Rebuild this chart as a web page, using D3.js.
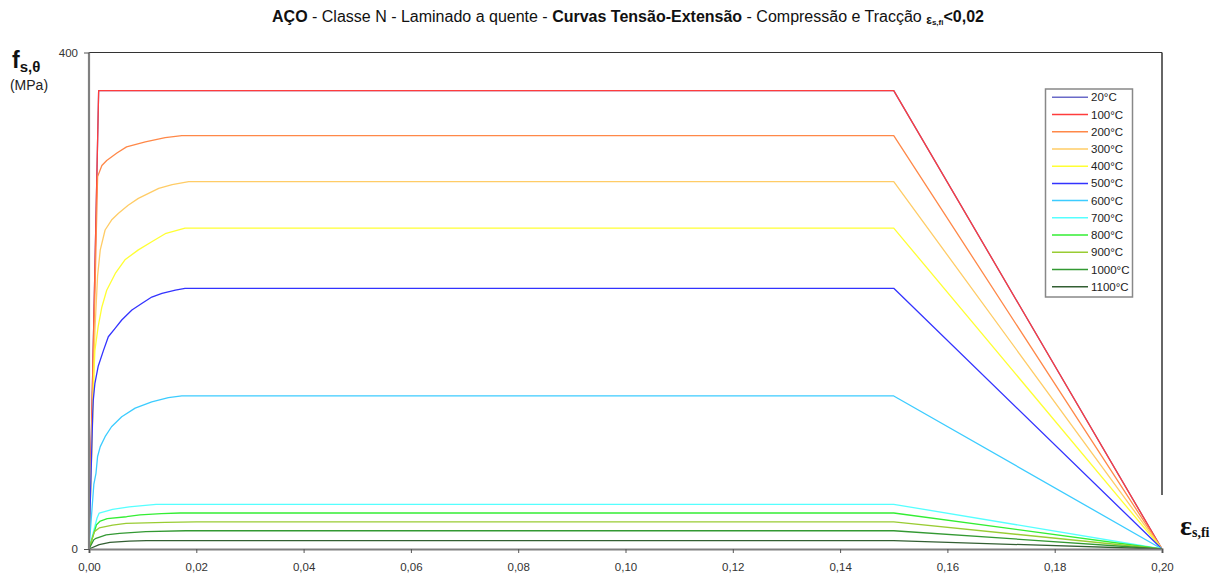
<html>
<head>
<meta charset="utf-8">
<script src="https://cdn.jsdelivr.net/npm/d3@7"></script>
<style>
  body { margin:0; background:#fff; }
  svg { font-family: "Liberation Sans", Arial, sans-serif; }
  .curve { fill:none; stroke-width:1.3; stroke-linejoin:round; }
</style>
</head>
<body>
<div id="container"></div>
<script>
// temperatures (legend) and [strain, stress MPa] points
var temps = ["20°C","100°C","200°C","300°C","400°C","500°C","600°C","700°C","800°C","900°C","1000°C","1100°C"];

var s20   = [[0,0],[0.0018,369.3],[0.15,369.3],[0.20,0]];
var s100  = [[0,0],[0.0018,369.3],[0.15,369.3],[0.20,0]];
var s200  = [[0,0],[0.0016,300],[0.0024,309],[0.0033,313],[0.0052,319],[0.0070,324],[0.0105,328],[0.0142,331.5],[0.0173,333],[0.02,333],[0.15,333],[0.20,0]];
var s300  = [[0,0],[0.0011,176],[0.0016,220],[0.0021,241],[0.0030,257],[0.0042,265],[0.0055,270.5],[0.0073,277],[0.0092,282.5],[0.0111,286.5],[0.0130,290.5],[0.0155,293.5],[0.0186,296],[0.02,296],[0.15,296],[0.20,0]];
var s400  = [[0,0],[0.0009,140],[0.0011,160],[0.0017,179],[0.0024,195],[0.0033,208.5],[0.0049,222],[0.0067,233],[0.0092,241],[0.0117,247.5],[0.0142,254],[0.0179,258.5],[0.02,258.5],[0.15,258.5],[0.20,0]];
var s500  = [[0,0],[0.0007,110],[0.0008,120],[0.0011,133.5],[0.0017,147],[0.0027,160],[0.0036,171],[0.0049,178],[0.0061,184.5],[0.0080,192.5],[0.0099,198],[0.0117,203],[0.0136,206],[0.0161,208.5],[0.0179,210],[0.02,210],[0.15,210],[0.20,0]];
var s600  = [[0,0],[0.0009,52],[0.0013,61],[0.0016,74.5],[0.0021,82.5],[0.0030,90.5],[0.0042,98.5],[0.0061,106.5],[0.0086,113.5],[0.0117,118.5],[0.0148,122],[0.0173,123.3],[0.02,123.3],[0.15,123.3],[0.20,0]];
var s700  = [[0,0],[0.0015,25],[0.0019,29],[0.0044,32],[0.0075,34],[0.0125,36],[0.02,36],[0.15,36],[0.20,0]];
var s800  = [[0,0],[0.0014,19.5],[0.0021,22.5],[0.0034,24.5],[0.0070,26],[0.0095,27.5],[0.0135,28.5],[0.017,29],[0.02,29],[0.15,29],[0.20,0]];
var s900  = [[0,0],[0.0010,14],[0.0019,17],[0.0044,19.3],[0.0069,20.7],[0.0142,21.5],[0.02,21.8],[0.15,21.8],[0.20,0]];
var s1000 = [[0,0],[0.0009,7.5],[0.0013,8.6],[0.0032,11.3],[0.0057,12.6],[0.0106,14],[0.0180,14.7],[0.02,14.7],[0.15,14.7],[0.20,0]];
var s1100 = [[0,0],[0.0019,3.5],[0.0039,5.4],[0.0075,6.4],[0.0107,6.7],[0.02,6.7],[0.15,6.7],[0.20,0]];

var xTicks = [0,0.02,0.04,0.06,0.08,0.10,0.12,0.14,0.16,0.18,0.20];
var yTicks = [0,400];

var series = [s20,s100,s200,s300,s400,s500,s600,s700,s800,s900,s1000,s1100];
var colors = ["#6a6ac8","#ff3c3c","#ff8848","#ffcc66","#ffff33","#3333ff","#3cccff","#55ffff","#33ee33","#99cc33","#339933","#335f33"];

var svg = d3.select("#container").append("svg")
	.attr("width", 1216).attr("height", 576);

var x = d3.scaleLinear().domain([0, 0.2]).range([89, 1162]);
var y = d3.scaleLinear().domain([0, 400]).range([549, 52.5]);

// title
var title = svg.append("text").attr("x", 628).attr("y", 22)
	.attr("text-anchor", "middle").attr("font-size", 16).attr("fill", "#111");
title.append("tspan").attr("font-weight", "bold").text("AÇO");
title.append("tspan").text(" - Classe N - Laminado a quente - ");
title.append("tspan").attr("font-weight", "bold").text("Curvas Tensão-Extensão");
title.append("tspan").text(" - Compressão e Tracção ");
title.append("tspan").attr("font-weight", "bold").attr("font-size", 12).attr("dy", 2).text("ε");
title.append("tspan").attr("font-weight", "bold").attr("font-size", 8).attr("dy", 1).text("s,fi");
title.append("tspan").attr("font-weight", "bold").attr("dy", -3).text("<0,02");

// frame: top and right
svg.append("line").attr("x1", 89).attr("x2", 1162).attr("y1", 52.5).attr("y2", 52.5)
	.attr("stroke", "#333").attr("stroke-width", 1.2);
svg.append("line").attr("x1", 1162).attr("x2", 1162).attr("y1", 52.5).attr("y2", 495)
	.attr("stroke", "#333").attr("stroke-width", 1.5);

// curves
var line = d3.line().x(function(d){ return x(d[0]); }).y(function(d){ return y(d[1]); });
svg.append("g").selectAll("path").data(series).enter().append("path")
	.attr("class", "curve")
	.attr("stroke", function(d, i){ return colors[i]; })
	.attr("d", line);

// axes
var xAxis = d3.axisBottom(x).tickValues(xTicks).tickSize(4).tickPadding(10)
	.tickFormat(function(d){ return d3.format(".2f")(d).replace(".", ","); });
var gx = svg.append("g").attr("transform", "translate(0,549)").call(xAxis);
gx.select(".domain").attr("stroke", "#808080").attr("stroke-width", 2.2);
gx.selectAll(".tick line").attr("stroke", "#555");
gx.selectAll("text").attr("font-size", 11.5).attr("font-family", "\"Liberation Sans\", Arial, sans-serif").attr("fill", "#333");

var yAxis = d3.axisLeft(y).tickValues(yTicks).tickSize(5).tickPadding(6);
var gy = svg.append("g").attr("transform", "translate(89,0)").call(yAxis);
gy.select(".domain").attr("stroke", "#808080").attr("stroke-width", 2.2).attr("d", "M0,52.5V549");
gy.selectAll(".tick line").attr("stroke", "#555");
gy.selectAll("text").attr("font-size", 11.5).attr("font-family", "\"Liberation Sans\", Arial, sans-serif").attr("fill", "#333");

// y label
var yl = svg.append("text").attr("x", 12).attr("y", 68).attr("font-weight", "bold").attr("fill", "#111");
yl.append("tspan").attr("font-size", 23).text("f");
yl.append("tspan").attr("font-size", 15).attr("dy", 4).text("s,θ");
svg.append("text").attr("x", 29).attr("y", 90).attr("text-anchor", "middle")
	.attr("font-size", 14).attr("fill", "#222").text("(MPa)");

// x label
var xl = svg.append("text").attr("x", 1180).attr("y", 535).attr("font-weight", "bold")
	.attr("font-family", "\"Liberation Serif\", \"Times New Roman\", serif").attr("fill", "#111");
xl.append("tspan").attr("font-size", 28).text("ε");
xl.append("tspan").attr("font-size", 14).attr("dy", 2).text("s,fi");

// legend
var lg = svg.append("g");
lg.append("rect").attr("x", 1045.5).attr("y", 89).attr("width", 87).attr("height", 208)
	.attr("fill", "#fff").attr("stroke", "#888").attr("stroke-width", 1.5);
var items = lg.selectAll("g.item").data(temps).enter().append("g")
	.attr("transform", function(d, i){ return "translate(0," + (97.3 + i * 17.22) + ")"; });
items.append("line").attr("x1", 1052).attr("x2", 1088)
	.attr("stroke", function(d, i){ return colors[i]; }).attr("stroke-width", 1.5);
items.append("text").attr("x", 1091).attr("y", 4).attr("font-size", 11.5).attr("fill", "#222")
	.text(function(d){ return d; });
</script>
</body>
</html>
